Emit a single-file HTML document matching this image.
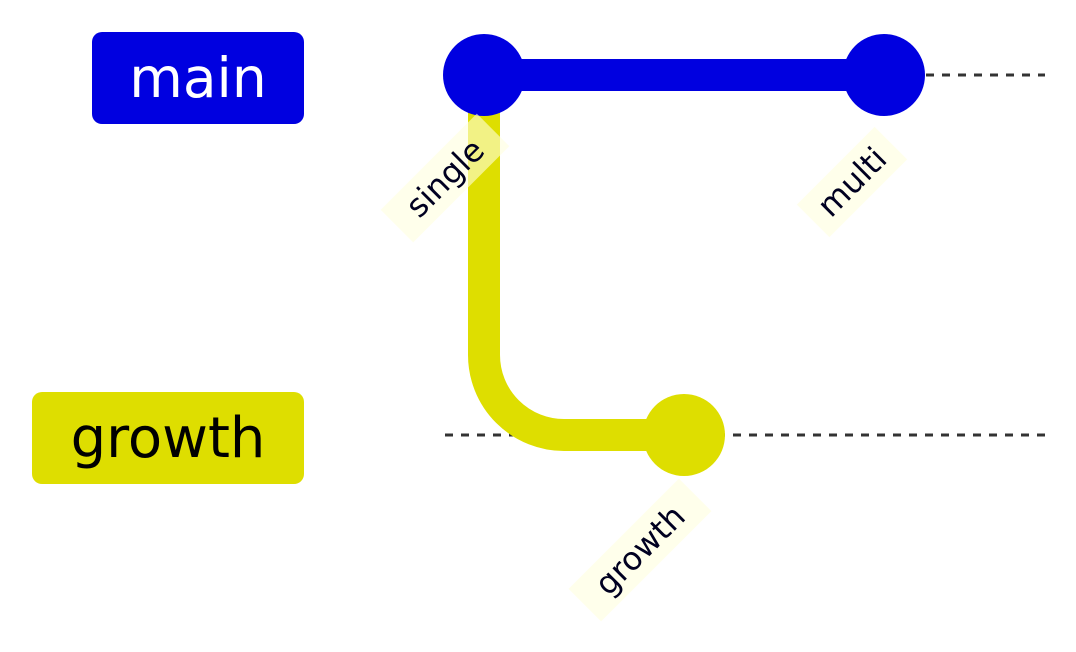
<!DOCTYPE html>
<html><head><meta charset="utf-8"><style>html,body{margin:0;padding:0;background:#fff;}svg{display:block}</style></head>
<body>
<svg width="1076" height="652" viewBox="0 0 1076 652" xmlns="http://www.w3.org/2000/svg" font-family="DejaVu Sans, Liberation Sans, sans-serif">
<line x1="926" y1="75" x2="1045" y2="75" stroke="#333" stroke-width="3" stroke-dasharray="8,8"/>
<line x1="445" y1="435" x2="1045" y2="435" stroke="#333" stroke-width="3" stroke-dasharray="8,8"/>
<line x1="484" y1="75" x2="884" y2="75" stroke="#0000e0" stroke-width="32"/>
<path d="M484 75 V355 A80 80 0 0 0 564 435 H684" fill="none" stroke="#dede00" stroke-width="32"/>
<circle cx="484" cy="75" r="41" fill="#0000e0"/>
<circle cx="884" cy="75" r="41" fill="#0000e0"/>
<circle cx="684" cy="435" r="41" fill="#dede00"/>
<rect x="92" y="32" width="212" height="92" rx="10" fill="#0000e0"/>
<text x="198" y="97" font-size="55" fill="#fff" text-anchor="middle">main</text>
<rect x="32" y="392" width="272" height="92" rx="10" fill="#dede00"/>
<text x="168" y="457" font-size="56" fill="#000" text-anchor="middle">growth</text>
<g transform="translate(445,178) rotate(-45)">
<rect x="-68" y="-23" width="136" height="46" fill="#ffffde" fill-opacity="0.6"/>
<text x="0" y="11" font-size="32" fill="#000020" text-anchor="middle">single</text></g>
<g transform="translate(852,182) rotate(-45)">
<rect x="-55" y="-23" width="110" height="46" fill="#ffffde" fill-opacity="0.6"/>
<text x="0" y="11" font-size="32" fill="#000020" text-anchor="middle">multi</text></g>
<g transform="translate(640,550) rotate(-45)">
<rect x="-78" y="-23" width="156" height="46" fill="#ffffde" fill-opacity="0.6"/>
<text x="0" y="11" font-size="32" fill="#000020" text-anchor="middle">growth</text></g>
</svg>
</body></html>
